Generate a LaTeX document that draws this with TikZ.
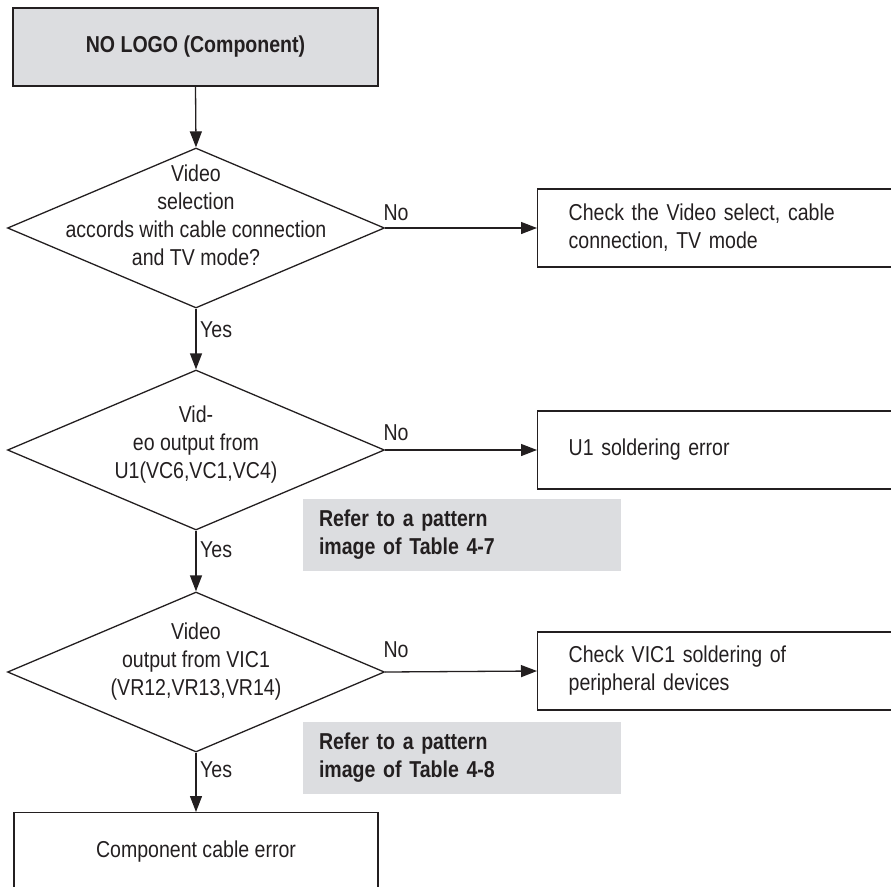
\documentclass[tikz,border=0pt]{standalone}
\usepackage{fontspec}
\setmainfont{Liberation Sans}[FakeStretch=0.85]
\usetikzlibrary{shapes.geometric,arrows.meta}
\definecolor{boxgray}{RGB}{220,221,224}
\definecolor{ink}{RGB}{35,31,32}
\tikzset{
  every node/.style={font=\fontsize{23}{28}\selectfont, text=ink},
  line/.style={draw=ink, line width=1.3pt},
  arr/.style={line, -{Triangle[length=16pt,width=12pt]}},
  startbox/.style={line, fill=boxgray, rectangle, minimum width=365pt, minimum height=78pt, inner sep=0pt, font=\fontsize{23}{28}\selectfont\bfseries},
  decision/.style={line, diamond, minimum width=377pt, minimum height=160pt, inner sep=0pt},
  dtext/.style={align=center, inner sep=0pt},
  actbox/.style={line, rectangle, anchor=west, minimum width=400pt, minimum height=78pt, text width=338pt, inner xsep=31pt, inner ysep=0pt, align=left},
  notebox/.style={fill=boxgray, rectangle, minimum width=318pt, minimum height=72pt, text width=286pt, inner xsep=16pt, inner ysep=0pt, align=left, font=\fontsize{23}{28}\selectfont\bfseries},
  endbox/.style={line, rectangle, anchor=north, minimum width=364pt, minimum height=80pt, inner sep=0pt},
  lbl/.style={inner sep=0pt}
}
\begin{document}
\begin{tikzpicture}[x=1pt,y=-1pt]
\useasboundingbox (0,0) rectangle (891,886);
\clip (0,0) rectangle (891,886);
% start
\node[startbox] (start) at (195.5,47) {NO LOGO (Component)};
% decision 1
\node[decision] (d1) at (196,228) {};
\node[dtext] (d1t) at (196,215) {Video\\selection\\accords with cable connection\\and TV mode?};
\node[actbox] (a1) at (537,228) {Check the Video select, cable\\connection, TV mode};
% decision 2
\node[decision] (d2) at (196,450) {};
\node[dtext] (d2t) at (196,445) {Vid-\\eo output from\\U1(VC6,VC1,VC4)};
\node[actbox] (a2) at (537,450) {U1 soldering error};
\node[notebox] (n1) at (462,535) {Refer to a pattern\\image of Table 4-7};
% decision 3
\node[decision] (d3) at (196,672) {};
\node[dtext] (d3t) at (196,662) {Video\\output from VIC1\\(VR12,VR13,VR14)};
\node[actbox] (a3) at (537,671) {Check VIC1 soldering of\\peripheral devices};
\node[notebox] (n2) at (462,758) {Refer to a pattern\\image of Table 4-8};
% end
\node[endbox] (e) at (196,812) {};
\node[dtext] (et) at (196,852) {Component cable error};
% labels
\node[lbl] (no1) at (396,213) {No};
\node[lbl] (no2) at (396,433) {No};
\node[lbl] (no3) at (396,650) {No};
\node[lbl, anchor=west] (y1) at (200,330) {Yes};
\node[lbl, anchor=west] (y2) at (200,550) {Yes};
\node[lbl, anchor=west] (y3) at (200,770) {Yes};
% connectors
\draw[arr] (start.south) -- (d1.north);
\draw[arr] (d1.east) -- (a1.west);
\draw[arr] (d1.south) -- (d2.north);
\draw[arr] (d2.east) -- (a2.west);
\draw[arr] (d2.south) -- (d3.north);
\draw[arr] (d3.east) -- (a3.west);
\draw[arr] (d3.south) -- (e.north);
\end{tikzpicture}
\end{document}
